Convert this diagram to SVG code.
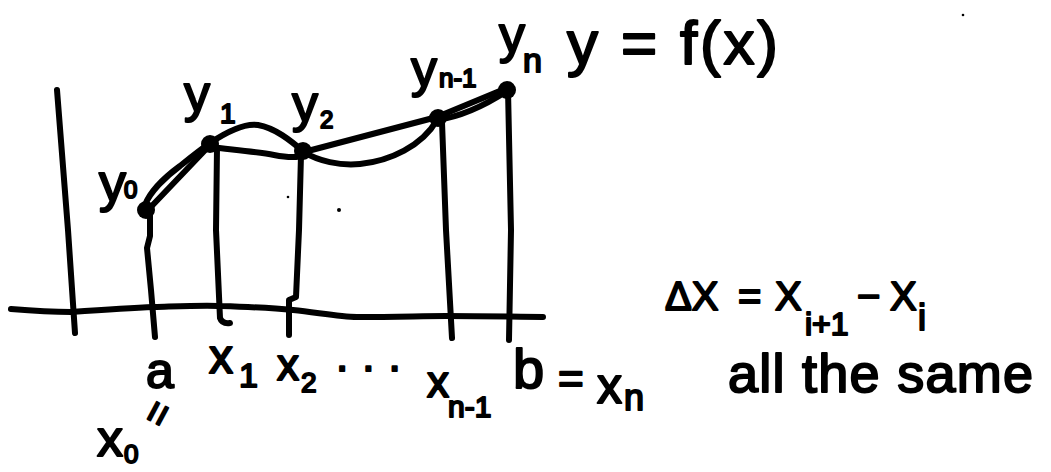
<svg xmlns="http://www.w3.org/2000/svg" width="1051" height="472" viewBox="0 0 1051 472">
<style>
.ink{fill:none;stroke:#000;stroke-width:6;stroke-linecap:round;stroke-linejoin:round}
.dot{fill:#000}
.n{font-family:"Liberation Sans",Arial,sans-serif;font-weight:normal;fill:#000;stroke:#000;stroke-width:2;stroke-linejoin:round}
</style>
<rect width="1051" height="472" fill="#fff"/>
<g id="axes">
<path class="ink" d="M57,90 L68,230 L75,333"/>
<path class="ink" d="M11,309 C35,311 55,312 71,312 C100,310 130,308 154,307 C185,306 205,305 221,306 C250,307 272,308 293,310 C320,313 340,317 357,317 C400,317 420,316 446,316 C490,316 520,317 543,317"/>
</g>
<g id="connectors">
<path id="vert-x0" class="ink" d="M150,215 L150,236 L147,248 L151,290 L155,337"/>
<path id="vert-x1" class="ink" d="M217,148 L216,230 L220,318 Q222,324 230,323"/>
<path id="vert-x2" class="ink" d="M301,155 L299,230 L296,297 L289,300 L289,335"/>
<path id="vert-xn1" class="ink" d="M442,122 L446,230 L452,338"/>
<path id="vert-xn" class="ink" d="M508,90 L511,230 L509,340"/>
<path id="curve" class="ink" d="M145,205 C150,192 165,177 180,166 C190,158 200,150 210,143 C228,131 245,123 258,125 C275,128 290,140 304,152 C318,161 340,166 360,164 C390,161 422,146 437,120 C458,117 484,106 507,91"/>
<path id="chords" class="ink" d="M147,211 L210,145 M210,147 C235,150 258,152 274,155 C290,158 298,158 304,155 M304,152 L437,117 L507,88"/>
</g>
<g id="points">
<circle id="p-y0" class="dot" cx="146" cy="210" r="9"/>
<circle id="p-y1" class="dot" cx="210" cy="144" r="9"/>
<circle id="p-y2" class="dot" cx="303" cy="151" r="9"/>
<circle id="p-yn1" class="dot" cx="438" cy="118" r="9"/>
<circle id="p-yn" class="dot" cx="507" cy="90" r="9"/>
<circle class="dot" cx="339" cy="210" r="2"/>
<circle class="dot" cx="288" cy="197" r="1.3"/>
<circle class="dot" cx="963" cy="15" r="1.3"/>
</g>
<g id="label-y0"><text class="n" x="99" y="201" font-size="54">y<tspan font-size="24" dx="-2" dy="-3">0</tspan></text></g>
<g id="label-y1"><text class="n" x="184" y="111" font-size="52">y<tspan font-size="28" dx="10" dy="12">1</tspan></text></g>
<g id="label-y2"><text class="n" x="292" y="121" font-size="52">y<tspan font-size="24" dx="2" dy="7">2</tspan></text></g>
<g id="label-yn1"><text class="n" x="411" y="86" font-size="52">y<tspan font-size="26" dx="2" dy="1">n-1</tspan></text></g>
<g id="label-yn"><text class="n" x="499" y="52" font-size="52">y<tspan font-size="34" dx="-2" dy="20">n</tspan></text></g>
<g id="label-fx"><text class="n" x="567" y="64" font-size="62" textLength="211" lengthAdjust="spacing">y = f(x)</text></g>
<g id="label-a"><text class="n" x="146" y="388" font-size="50">a</text></g>
<g id="label-eq"><text class="n" font-size="40" transform="translate(157,413) rotate(-62)" text-anchor="middle" dominant-baseline="central">=</text></g>
<g id="label-x0"><text class="n" x="97" y="456" font-size="52">x<tspan font-size="26" dx="1" dy="7">0</tspan></text></g>
<g id="label-x1"><text class="n" x="209" y="373" font-size="48">x<tspan font-size="34" dx="6" dy="14">1</tspan></text></g>
<g id="label-x2"><text class="n" x="277" y="380" font-size="44">x<tspan font-size="28" dx="2" dy="12">2</tspan></text></g>
<g id="label-dots"><text class="n" x="336" y="371" font-size="44" letter-spacing="14">...</text></g>
<g id="label-xn1"><text class="n" x="427" y="397" font-size="44">x<tspan font-size="30" dx="-1" dy="20">n-1</tspan></text></g>
<g id="label-bxn"><text class="n" x="513" y="388" font-size="56">b</text><text class="n" x="558" y="394" font-size="44">=</text><text class="n" x="597" y="403" font-size="50">x<tspan font-size="36" dx="2" dy="7">n</tspan></text></g>
<g id="label-dx"><text class="n" x="665" y="310" font-size="40">ΔX<tspan x="738">=</tspan><tspan x="775">X</tspan><tspan font-size="32" x="805" dy="25">i+1</tspan><tspan x="857" dy="-25">−</tspan><tspan x="890">X</tspan><tspan font-size="36" x="918" dy="20">i</tspan></text></g>
<g id="label-same"><text class="n" x="728" y="392" font-size="54" textLength="305" lengthAdjust="spacing">all the same</text></g>
</svg>
